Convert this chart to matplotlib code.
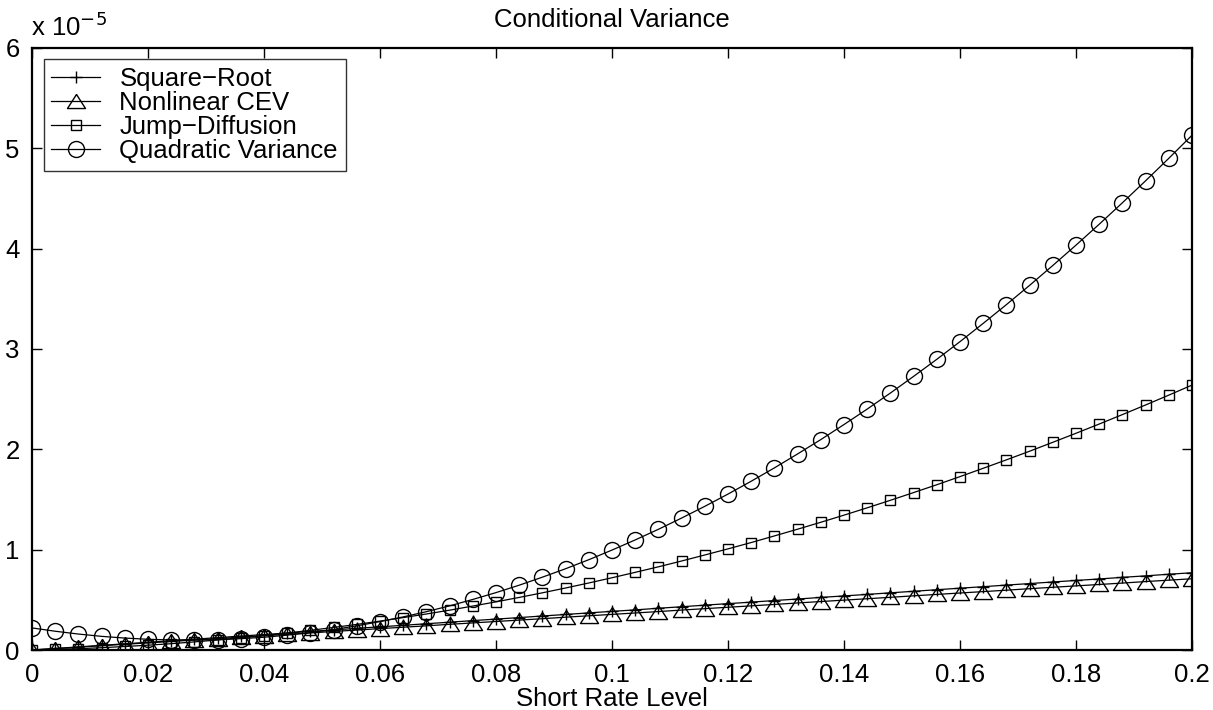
import matplotlib
matplotlib.use("Agg")
import matplotlib.pyplot as plt
from matplotlib.ticker import FixedLocator

plt.rcParams['font.family'] = ['Liberation Sans', 'DejaVu Sans']

# Short rate grid (51 points, 0 to 0.2)
rate = [0.000, 0.004, 0.008, 0.012, 0.016, 0.020, 0.024, 0.028, 0.032, 0.036,
        0.040, 0.044, 0.048, 0.052, 0.056, 0.060, 0.064, 0.068, 0.072, 0.076,
        0.080, 0.084, 0.088, 0.092, 0.096, 0.100, 0.104, 0.108, 0.112, 0.116,
        0.120, 0.124, 0.128, 0.132, 0.136, 0.140, 0.144, 0.148, 0.152, 0.156,
        0.160, 0.164, 0.168, 0.172, 0.176, 0.180, 0.184, 0.188, 0.192, 0.196,
        0.200]

# Conditional variance values, in units of 1e-5
square_root = [0.000, 0.015, 0.031, 0.046, 0.062, 0.077, 0.092, 0.108, 0.123, 0.139,
               0.154, 0.169, 0.185, 0.200, 0.216, 0.231, 0.246, 0.262, 0.277, 0.293,
               0.308, 0.323, 0.339, 0.354, 0.370, 0.385, 0.400, 0.416, 0.431, 0.447,
               0.462, 0.477, 0.493, 0.508, 0.524, 0.539, 0.554, 0.570, 0.585, 0.601,
               0.616, 0.631, 0.647, 0.662, 0.678, 0.693, 0.708, 0.724, 0.739, 0.755,
               0.770]
nonlinear_cev = [0.000, 0.014, 0.028, 0.043, 0.057, 0.071, 0.085, 0.099, 0.114, 0.128,
                 0.142, 0.156, 0.170, 0.185, 0.199, 0.213, 0.227, 0.241, 0.256, 0.270,
                 0.284, 0.298, 0.312, 0.327, 0.341, 0.355, 0.369, 0.383, 0.398, 0.412,
                 0.426, 0.440, 0.454, 0.469, 0.483, 0.497, 0.511, 0.525, 0.540, 0.554,
                 0.568, 0.582, 0.596, 0.611, 0.625, 0.639, 0.653, 0.667, 0.682, 0.696,
                 0.710]
jump_diffusion = [0.000, 0.006, 0.013, 0.023, 0.035, 0.048, 0.063, 0.081, 0.100, 0.121,
                  0.144, 0.169, 0.196, 0.225, 0.255, 0.288, 0.323, 0.359, 0.397, 0.438,
                  0.480, 0.524, 0.570, 0.618, 0.668, 0.720, 0.774, 0.829, 0.887, 0.947,
                  1.008, 1.071, 1.137, 1.204, 1.273, 1.344, 1.417, 1.492, 1.569, 1.647,
                  1.728, 1.811, 1.895, 1.981, 2.070, 2.160, 2.252, 2.346, 2.442, 2.540,
                  2.640]
quadratic_variance = [0.220, 0.187, 0.159, 0.136, 0.119, 0.107, 0.100, 0.099, 0.103, 0.113,
                      0.127, 0.148, 0.173, 0.204, 0.241, 0.283, 0.330, 0.382, 0.440, 0.504,
                      0.572, 0.646, 0.726, 0.810, 0.900, 0.996, 1.097, 1.203, 1.315, 1.432,
                      1.554, 1.682, 1.815, 1.954, 2.097, 2.247, 2.401, 2.561, 2.727, 2.897,
                      3.073, 3.255, 3.442, 3.634, 3.832, 4.035, 4.243, 4.457, 4.676, 4.900,
                      5.130]

series_labels = ['Square\u2212Root', 'Nonlinear CEV', 'Jump\u2212Diffusion', 'Quadratic Variance']
x_ticks = [0, 0.02, 0.04, 0.06, 0.08, 0.1, 0.12, 0.14, 0.16, 0.18, 0.2]
x_tick_labels = ['0', '0.02', '0.04', '0.06', '0.08', '0.1', '0.12', '0.14', '0.16', '0.18', '0.2']
y_ticks = [0, 1, 2, 3, 4, 5, 6]

FS = 18.5
tri = [(0, 0.78), (-1, -0.78), (1, -0.78), (0, 0.78)]

fig = plt.figure(figsize=(12.13, 7.10), dpi=100)
ax = fig.add_axes([0.0264, 0.0845, 0.9563, 0.848])

ax.plot(rate, square_root, color='black', lw=0.9, marker='+', ms=9, mew=1.0,
        label=series_labels[0])
ax.plot(rate, nonlinear_cev, color='black', lw=0.9, marker=tri, ms=13, mew=1.0,
        mfc='none', label=series_labels[1])
ax.plot(rate, jump_diffusion, color='black', lw=0.9, marker='s', ms=7.8, mew=1.0,
        mfc='none', label=series_labels[2])
ax.plot(rate, quadratic_variance, color='black', lw=0.9, marker='o', ms=11.5, mew=1.0,
        mfc='none', label=series_labels[3])

ax.set_xlim(0, 0.2)
ax.set_ylim(0, 6)
ax.xaxis.set_major_locator(FixedLocator(x_ticks))
ax.set_xticklabels(x_tick_labels)
ax.yaxis.set_major_locator(FixedLocator(y_ticks))
ax.set_yticklabels([str(t) for t in y_ticks])
ax.tick_params(direction='in', length=7, width=1, labelsize=FS,
               top=True, right=True)
ax.tick_params(axis='x', pad=9)
ax.tick_params(axis='y', pad=9)
for s in ax.spines.values():
    s.set_linewidth(1.6)

ax.set_xlabel('Short Rate Level', fontsize=FS, labelpad=0)
ax.set_title('Conditional Variance', fontsize=FS, pad=15)
ax.text(-0.001, 1.012, r'x 10$^{-5}$', transform=ax.transAxes, fontsize=FS,
        ha='left', va='bottom')

leg = ax.legend(loc='upper left', fontsize=FS, frameon=True, fancybox=False,
                edgecolor='black', borderpad=0.3, labelspacing=0.0,
                handlelength=1.9, handletextpad=0.75, borderaxespad=0.45)
leg.get_frame().set_linewidth(1.0)

fig.savefig('out.png', dpi=100)
